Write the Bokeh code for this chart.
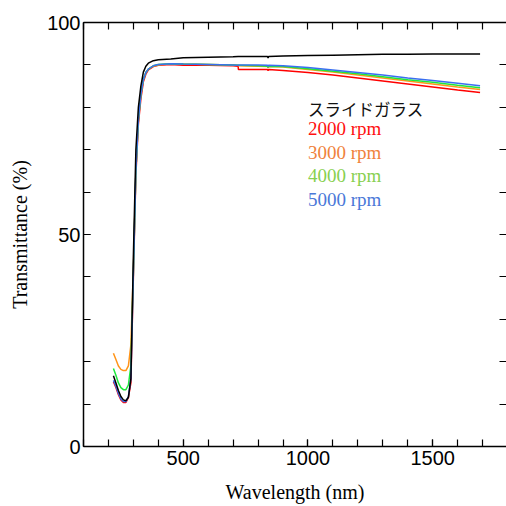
from bokeh.plotting import figure
from bokeh.models import Range1d, LinearAxis, SingleIntervalTicker, FixedTicker, ColumnDataSource
from bokeh.core.properties import value
from bokeh.embed import file_html
from bokeh.resources import INLINE

# ---- data ----
wavelength = [220, 230, 240, 250, 260, 270, 280, 290, 300, 310, 320, 330, 340, 350,
              360, 380, 400, 450, 500, 600, 700, 720, 721, 800, 838, 840, 842, 900,
              1000, 1100, 1200, 1300, 1400, 1500, 1600, 1690]

glass = [16.7, 15.0, 13.2, 11.8, 11.0, 10.8, 11.6, 16.0, 45.0, 70.0, 80.0, 85.0, 88.3, 89.7,
         90.4, 91.0, 91.2, 91.4, 91.7, 91.8, 91.9, 92.0, 92.0, 92.0, 92.0, 91.6, 92.0, 92.1,
         92.2, 92.3, 92.4, 92.5, 92.5, 92.6, 92.6, 92.6]

rpm2000 = [15.3, 13.9, 12.2, 11.0, 10.4, 10.4, 11.5, 15.0, 40.0, 64.0, 76.0, 82.0, 86.0, 87.8,
           88.8, 89.6, 89.9, 90.1, 89.9, 89.9, 89.8, 89.7, 88.9, 88.9, 88.9, 88.6, 88.9, 88.7,
           88.2, 87.6, 86.9, 86.2, 85.5, 84.8, 84.1, 83.5]

rpm3000 = [22.0, 20.5, 19.0, 18.2, 17.9, 17.9, 19.0, 24.0, 42.0, 65.0, 77.0, 83.0, 86.5, 88.2,
           89.0, 89.7, 90.0, 90.3, 90.2, 90.1, 90.0, 89.9, 89.8, 89.7, 89.6, 89.3, 89.6, 89.5,
           88.9, 88.3, 87.6, 86.9, 86.2, 85.5, 84.8, 84.2]

rpm4000 = [18.4, 16.8, 15.0, 13.9, 13.4, 13.4, 14.5, 19.0, 41.0, 65.0, 77.0, 83.0, 86.5, 88.2,
           89.0, 89.8, 90.1, 90.3, 90.2, 90.1, 90.0, 89.9, 89.9, 89.8, 89.7, 89.4, 89.7, 89.6,
           89.1, 88.5, 87.9, 87.2, 86.5, 85.9, 85.2, 84.6]

rpm5000 = [15.6, 14.2, 12.5, 11.2, 10.6, 10.6, 11.8, 16.0, 41.0, 65.0, 77.0, 83.0, 86.5, 88.2,
           89.0, 89.8, 90.1, 90.3, 90.2, 90.1, 90.0, 89.9, 90.0, 90.0, 89.9, 89.6, 89.9, 89.8,
           89.4, 88.8, 88.2, 87.6, 86.9, 86.3, 85.7, 85.1]

series_labels = ["スライドガラス", "2000 rpm", "3000 rpm", "4000 rpm", "5000 rpm"]
series_values = [glass, rpm2000, rpm3000, rpm4000, rpm5000]

x_minor_ticks = [100, 200, 300, 400, 500, 600, 700, 800, 900, 1000, 1100, 1200, 1300,
                 1400, 1500, 1600, 1700]
y_minor_ticks = [0, 10, 20, 30, 40, 50, 60, 70, 80, 90, 100]

line_colors = ["#000000", "#ff0000", "#ff9419", "#1ee83c", "#3a6ff0"]
text_colors = ["#111111", "#ff1010", "#f0823c", "#88d050", "#4a78d8"]

# ---- figure ----
p = figure(width=506, height=506, output_backend="svg", toolbar_location=None,
           x_range=Range1d(100, 1796), y_range=Range1d(0, 100),
           min_border_left=83, min_border_top=22, min_border_bottom=60, min_border_right=0)
p.outline_line_color = None
p.grid.visible = False
p.background_fill_color = "white"
p.border_fill_color = "white"

order = [1, 2, 3, 4, 0]
for i in order:
    p.line(wavelength, series_values[i], line_color=line_colors[i], line_width=1.5)

# legend texts
legend_x = 1000
legend_title_y = 79.5
legend_first_row = 75.0
legend_step = 5.6
p.text(x=[legend_x], y=[legend_title_y], text=[series_labels[0]], text_color=text_colors[0],
       text_font=value("Noto Sans CJK JP"), text_font_size="16.5px",
       text_baseline="middle", text_align="left")
src2 = ColumnDataSource(dict(
    x=[legend_x] * 4,
    y=[legend_first_row - k * legend_step for k in range(4)],
    t=series_labels[1:],
    c=text_colors[1:],
))
p.text(x="x", y="y", text="t", text_color="c", source=src2,
       text_font=value("Liberation Serif"), text_font_size="19px",
       text_baseline="middle", text_align="left")

# axes styling
def style_axis(ax):
    ax.axis_line_color = "black"
    ax.axis_line_width = 1.5
    ax.major_tick_line_color = "black"
    ax.minor_tick_line_color = "black"
    ax.major_tick_line_width = 1.2
    ax.minor_tick_line_width = 1.2
    ax.major_tick_in = 7
    ax.major_tick_out = 0
    ax.minor_tick_in = 7
    ax.minor_tick_out = 0
    ax.major_label_text_font = "Liberation Sans"
    ax.major_label_text_font_size = "20px"
    ax.major_label_text_color = "black"
    ax.axis_label_text_font = "Liberation Serif"
    ax.axis_label_text_font_size = "20px"
    ax.axis_label_text_font_style = "normal"
    ax.axis_label_text_color = "black"

p.xaxis.ticker = SingleIntervalTicker(interval=500, num_minor_ticks=5)
p.yaxis.ticker = SingleIntervalTicker(interval=50, num_minor_ticks=5)
for ax in p.xaxis + p.yaxis:
    style_axis(ax)
p.xaxis.axis_label = "Wavelength (nm)"
p.yaxis.axis_label = "Transmittance (%)"
p.xaxis.major_label_standoff = 4
p.xaxis.axis_label_standoff = 13
p.yaxis.major_label_standoff = 3
p.yaxis.axis_label_standoff = 13

top = LinearAxis(ticker=FixedTicker(ticks=[], minor_ticks=x_minor_ticks))
right = LinearAxis(ticker=FixedTicker(ticks=[], minor_ticks=y_minor_ticks))
for ax in (top, right):
    style_axis(ax)
    ax.major_label_standoff = 0
right.axis_line_color = None
p.add_layout(top, "above")
p.add_layout(right, "right")

open("out.html", "w").write(file_html(p, INLINE))
